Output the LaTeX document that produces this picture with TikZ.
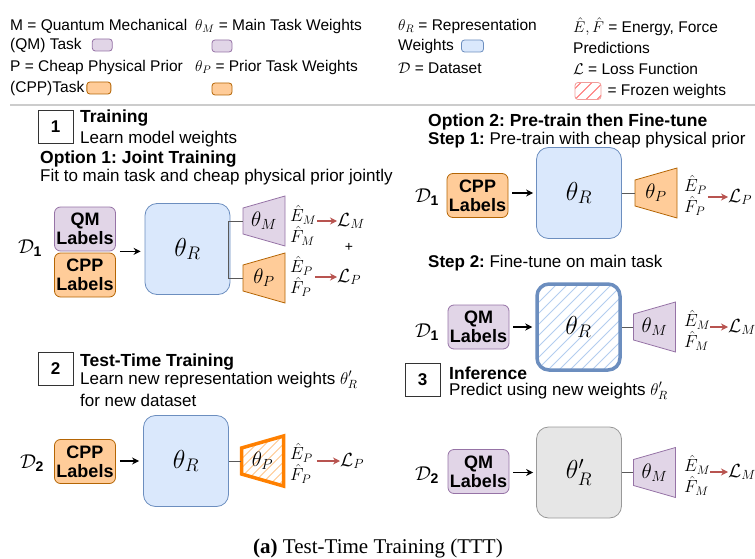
\RequirePackage{fix-cm}
\documentclass[tikz,border=0pt]{standalone}
\usepackage{amsmath, amssymb}
\usepackage{fontspec}
\setmainfont{Liberation Sans}
\newfontfamily\capfont{Liberation Serif}
\usetikzlibrary{positioning, calc, arrows.meta}
\frenchspacing

\definecolor{qmfill}{HTML}{E1D5E7}
\definecolor{qmdraw}{HTML}{9673A6}
\definecolor{cppfill}{HTML}{FFCC99}
\definecolor{cppdraw}{HTML}{B46504}
\definecolor{repfill}{HTML}{DAE8FC}
\definecolor{repdraw}{HTML}{6C8EBF}
\definecolor{rephatch}{HTML}{B3CDEF}
\definecolor{newfill}{HTML}{E6E6E6}
\definecolor{newdraw}{HTML}{999999}
\definecolor{lossred}{HTML}{B85450}
\definecolor{frozred}{HTML}{F19C99}
\definecolor{hotorange}{HTML}{FF8000}

\tikzset{
  legend/.style={anchor=west, inner sep=0pt, font=\fontsize{15.5}{19}\selectfont},
  txt/.style={anchor=west, inner sep=0pt, font=\fontsize{17}{20}\selectfont},
  head/.style={anchor=west, inner sep=0pt, font=\fontsize{17.5}{20}\selectfont\bfseries},
  numbox/.style={draw=black!80, line width=0.8pt, minimum width=35pt, minimum height=33pt, inner sep=0pt, font=\fontsize{17}{20}\selectfont\bfseries},
  swatch/.style={rounded corners=3pt, minimum width=20pt, minimum height=12pt, inner sep=0pt, line width=0.8pt},
  lab/.style={rounded corners=6pt, minimum width=61pt, minimum height=44pt, inner sep=0pt, align=center, line width=0.8pt, font=\fontsize{18}{19}\selectfont\bfseries},
  qmlab/.style={lab, fill=qmfill, draw=qmdraw},
  cpplab/.style={lab, fill=cppfill, draw=cppdraw},
  rep/.style={rounded corners=12pt, minimum width=85pt, minimum height=91pt, inner sep=0pt, line width=0.8pt, font=\fontsize{26}{26}\selectfont},
  data/.style={inner sep=0pt, font=\fontsize{20}{20}\selectfont},
  pred/.style={anchor=west, inner sep=0pt, align=left, font=\fontsize{17.5}{21}\selectfont},
  loss/.style={anchor=west, inner sep=0pt, font=\fontsize{19}{19}\selectfont},
  headlab/.style={minimum width=42pt, minimum height=26pt, inner sep=0pt, font=\fontsize{21}{21}\selectfont},
  arr/.style={-{Stealth[length=7pt,width=7pt]}, line width=1.4pt, black},
  lossarr/.style={-{Stealth[length=7pt,width=7pt]}, line width=1.6pt, lossred},
  conn/.style={draw=black!65, line width=1pt},
  hatch/.style 2 args={path picture={\foreach \k in {-15,...,15} \draw[#1, line width=1pt] ([xshift=\k*#2]path picture bounding box.south west) -- ++(150,-150);}},
}

% trapezoid head: name, centre, style, label
\newcommand{\headtrap}[4]{%
  \draw[#3] ($(#2)+(-21,-13)$) -- ($(#2)+(21,-25)$) -- ($(#2)+(21,25)$) -- ($(#2)+(-21,13)$) -- cycle;
  \node[headlab] (#1) at (#2) {#4};}

\begin{document}
\begin{tikzpicture}[x=1pt, y=-1pt]
\useasboundingbox (0,0) rectangle (755,559);

% legend
\node[legend] (qmdef) at (10,26) {M = Quantum Mechanical};
\node[legend] (qmtask) at (10,45) {(QM) Task};
\node[swatch, fill=qmfill, draw=qmdraw, right=10pt of qmtask] (qmsw) {};
\node[legend] (thMdef) at (195,26) {$\theta_M$ = Main Task Weights};
\node[swatch, fill=qmfill, draw=qmdraw] (thMsw) at (222,46) {};
\node[legend] (cppdef) at (10,67) {P = Cheap Physical Prior};
\node[legend] (cpptask) at (10,88) {(CPP)Task};
\node[swatch, fill=cppfill, draw=cppdraw, minimum width=24pt, right=2pt of cpptask] (cppsw) {};
\node[legend] (thPdef) at (195,67) {$\theta_P$ = Prior Task Weights};
\node[swatch, fill=cppfill, draw=cppdraw] (thPsw) at (222,89) {};
\node[legend] (thRdef) at (398,26) {$\theta_R$ = Representation};
\node[legend] (thRw) at (398,46) {Weights};
\node[swatch, fill=repfill, draw=repdraw, minimum width=22pt, right=7pt of thRw] (thRsw) {};
\node[legend] (ddef) at (398,68) {$\mathcal{D}$ = Dataset};
\node[legend] (efdef) at (573,27) {$\hat{E}, \hat{F}$ = Energy, Force};
\node[legend] (efpred) at (573,48) {Predictions};
\node[legend] (ldef) at (573,69) {$\mathcal{L}$ = Loss Function};
\node[swatch, minimum width=26pt, minimum height=17pt, draw=frozred, fill=white, hatch={red!60}{11}] (frzsw) at (588,91) {};
\node[legend, right=6pt of frzsw] (frzdef) {= Frozen weights};
\draw[black!20, line width=2pt] (10,105) -- (755,105);

% 1: training, option 1
\node[numbox] (n1) at (55.5,127) {1};
\node[head] (h1) at (80,118) {Training};
\node[txt] (s1) at (80,139) {Learn model weights};
\node[head] (o1) at (40,159) {Option 1: Joint Training};
\node[txt] (o1s) at (40,177) {Fit to main task and cheap physical prior jointly};

\node[data] (d1a) at (30,248) {$\mathcal{D}_{\mathbf{1}}$};
\node[qmlab] (qm1) at (85,229) {QM\\Labels};
\node[cpplab] (cpp1) at (85,275) {CPP\\Labels};
\node[rep, fill=repfill, draw=repdraw] (thR1) at (187.5,249) {$\theta_R$};
\draw[arr] ($(qm1.south east)+(4,0)$) -- ($(thR1.west |- qm1.south east)+(-4,0)$);
\headtrap{thM1}{264,221}{fill=qmfill, draw=qmdraw, line width=0.8pt}{$\theta_M$}
\headtrap{thP1}{264,278}{fill=cppfill, draw=cppdraw, line width=0.8pt}{$\theta_P$}
\draw[conn] (thM1.west) -- ++(-14,0) |- (thP1.west);
\node[pred] (eM1) at (290,225) {$\hat{E}_M$\\$\hat{F}_M$};
\node[loss] (lM1) at (337,221) {$\mathcal{L}_M$};
\draw[lossarr] ($(eM1.east |- lM1.west)+(1,0)$) -- (lM1.west);
\node[font=\fontsize{14}{14}\selectfont] (plus) at (349,247) {+};
\node[pred] (eP1) at (290,276) {$\hat{E}_P$\\$\hat{F}_P$};
\node[loss] (lP1) at (337,277) {$\mathcal{L}_P$};
\draw[lossarr] ($(eP1.east |- lP1.west)+(2,0)$) -- (lP1.west);

% 2: test-time training
\node[numbox] (n2) at (55.5,368.5) {2};
\node[head] (h2) at (80,362) {Test-Time Training};
\node[txt] (s2a) at (80,380) {Learn new representation weights $\theta'_R$};
\node[txt] (s2b) at (80,400) {for new dataset};
\node[data] (d2a) at (32,463) {$\mathcal{D}_{\mathbf{2}}$};
\node[cpplab] (cpp2) at (85,461.5) {CPP\\Labels};
\node[rep, fill=repfill, draw=repdraw] (thR2) at (186,461) {$\theta_R$};
\draw[arr] ($(cpp2.east |- thR2.west)+(4,0)$) -- ($(thR2.west)+(-4,0)$);
\headtrap{thP2}{262.5,461}{fill=white, draw=hotorange, line width=3.5pt, hatch={hotorange!45}{9}}{$\theta_P$}
\draw[conn] (thR2.east) -- (thP2.west);
\node[pred] (eP2) at (290,463.5) {$\hat{E}_P$\\$\hat{F}_P$};
\node[loss] (lP2) at (340,461) {$\mathcal{L}_P$};
\draw[lossarr] ($(eP2.east |- lP2.west)+(4,0)$) -- (lP2.west);

% option 2, step 1
\node[head] (o2) at (428,122) {Option 2: Pre-train then Fine-tune};
\node[txt] (st1) at (428,140) {\textbf{Step 1:} Pre-train with cheap physical prior};
\node[data] (d1b) at (427,197) {$\mathcal{D}_{\mathbf{1}}$};
\node[cpplab] (cpp3) at (477.5,195.5) {CPP\\Labels};
\node[rep, fill=repfill, draw=repdraw] (thR3) at (579,193) {$\theta_R$};
\draw[arr] ($(cpp3.east |- thR3.west)+(4,0)$) -- ($(thR3.west)+(-3,0)$);
\headtrap{thP3}{656,193}{fill=cppfill, draw=cppdraw, line width=0.8pt}{$\theta_P$}
\draw[conn] (thR3.east) -- (thP3.west);
\node[pred] (eP3) at (684,195.5) {$\hat{E}_P$\\$\hat{F}_P$};
\node[loss] (lP3) at (728,197) {$\mathcal{L}_P$};
\draw[lossarr] ($(eP3.east |- lP3.west)+(1,0)$) -- (lP3.west);

% step 2
\node[txt] (st2) at (428,263) {\textbf{Step 2:} Fine-tune on main task};
\node[data] (d1c) at (427,332) {$\mathcal{D}_{\mathbf{1}}$};
\node[qmlab] (qm4) at (478.5,327) {QM\\Labels};
\node[rep, fill=white, draw=repdraw, line width=3.5pt, minimum width=83pt, minimum height=86pt, hatch={rephatch}{11}] (thR4) at (578.5,327) {$\theta_R$};
\draw[arr] ($(qm4.east |- thR4.west)+(4,0)$) -- ($(thR4.west)+(-3,0)$);
\headtrap{thM4}{654.5,327}{fill=qmfill, draw=qmdraw, line width=0.8pt}{$\theta_M$}
\draw[conn] (thR4.east) -- (thM4.west);
\node[pred] (eM4) at (684,330.5) {$\hat{E}_M$\\$\hat{F}_M$};
\node[loss] (lM4) at (728,327) {$\mathcal{L}_M$};
\draw[lossarr] ($(eM4.east |- lM4.west)+(0,0)$) -- (lM4.west);

% 3: inference
\node[numbox] (n3) at (422.5,380) {3};
\node[head] (h3) at (449,373) {Inference};
\node[txt] (s3) at (449,391) {Predict using new weights $\theta'_R$};
\node[data] (d2b) at (427,475) {$\mathcal{D}_{\mathbf{2}}$};
\node[qmlab] (qm5) at (478.5,471.5) {QM\\Labels};
\node[rep, fill=newfill, draw=newdraw] (thR5) at (579,472.5) {$\theta'_R$};
\draw[arr] ($(qm5.east |- thR5.west)+(4,0)$) -- ($(thR5.west)+(-3,0)$);
\headtrap{thM5}{654.5,472.5}{fill=qmfill, draw=qmdraw, line width=0.8pt}{$\theta_M$}
\draw[conn] (thR5.east) -- (thM5.west);
\node[pred] (eM5) at (684,475.5) {$\hat{E}_M$\\$\hat{F}_M$};
\node[loss] (lM5) at (728,472) {$\mathcal{L}_M$};
\draw[lossarr] ($(eM5.east |- lM5.west)+(0,0)$) -- (lM5.west);

% caption
\node[inner sep=0pt, font=\capfont\fontsize{21}{21}\selectfont] (cap) at (378,548) {\textbf{(a)} Test-Time Training (TTT)};
\end{tikzpicture}
\end{document}
